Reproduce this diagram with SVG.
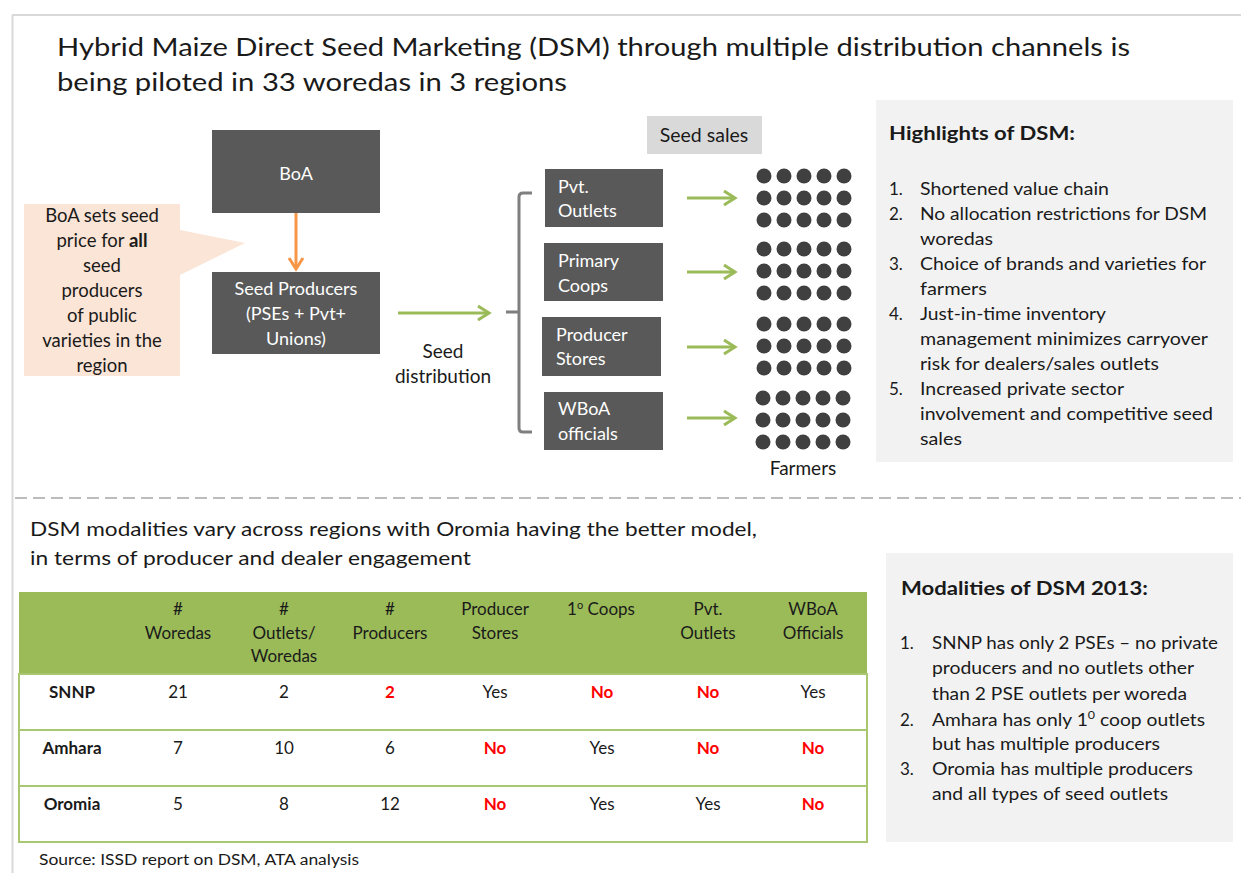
<svg xmlns="http://www.w3.org/2000/svg" width="1241" height="873" viewBox="0 0 1241 873">
<style>
text{font-family:Lato,"Liberation Sans",sans-serif;fill:#1a1a1a}
.t{font-size:25.5px}
.b{font-size:17px}
.cl{font-size:18.5px}
.lb{font-size:19px}
.h2{font-size:19px}
.bx{font-size:18px;fill:#fff}
.tb{font-size:17px}
.c{text-anchor:middle}
.bold{font-weight:bold}
.red{fill:#ff0000;font-weight:bold}
.box{fill:#595959}
.dot{fill:#404040}
.gr{stroke:#9bbb59;stroke-width:3;fill:none}
.panel{fill:#f2f2f2}
.tl{stroke:#a9c670;stroke-width:2}
</style>
<defs>
<marker id="ag" viewBox="0 0 16 18" refX="13" refY="9" markerWidth="16" markerHeight="18" markerUnits="userSpaceOnUse" orient="auto">
<path d="M2,2 L13,9 L2,16" fill="none" stroke="#9bbb59" stroke-width="3"/>
</marker>
<marker id="ao" viewBox="0 0 16 18" refX="13" refY="9" markerWidth="16" markerHeight="18" markerUnits="userSpaceOnUse" orient="auto">
<path d="M2,2 L13,9 L2,16" fill="none" stroke="#f79646" stroke-width="3"/>
</marker>
<g id="dots">
<circle class="dot" cx="0" cy="0" r="7.5"/><circle class="dot" cx="20" cy="0" r="7.5"/><circle class="dot" cx="40" cy="0" r="7.5"/><circle class="dot" cx="60" cy="0" r="7.5"/><circle class="dot" cx="80" cy="0" r="7.5"/>
<circle class="dot" cx="0" cy="22" r="7.5"/><circle class="dot" cx="20" cy="22" r="7.5"/><circle class="dot" cx="40" cy="22" r="7.5"/><circle class="dot" cx="60" cy="22" r="7.5"/><circle class="dot" cx="80" cy="22" r="7.5"/>
<circle class="dot" cx="0" cy="44" r="7.5"/><circle class="dot" cx="20" cy="44" r="7.5"/><circle class="dot" cx="40" cy="44" r="7.5"/><circle class="dot" cx="60" cy="44" r="7.5"/><circle class="dot" cx="80" cy="44" r="7.5"/>
</g>
</defs>
<rect width="1241" height="873" fill="#fff"/>
<g id="frame">
<line x1="12" y1="15" x2="1241" y2="15" stroke="#d9d9d9" stroke-width="2"/>
<line x1="12.5" y1="15" x2="12.5" y2="873" stroke="#d9d9d9" stroke-width="2"/>
<line x1="15" y1="498" x2="1241" y2="498" stroke="#a6a6a6" stroke-width="1.5" stroke-dasharray="12,6"/>
</g>
<g id="title">
<text class="t" x="57" y="56" textLength="1073" lengthAdjust="spacingAndGlyphs">Hybrid Maize Direct Seed Marketing (DSM) through multiple distribution channels is</text>
<text class="t" x="57" y="91" textLength="510" lengthAdjust="spacingAndGlyphs">being piloted in 33 woredas in 3 regions</text>
</g>
<g id="callout">
<path d="M24,204 H180 V230 L245,243 L180,275 V376 H24 Z" fill="#fbe5d6"/>
<text class="cl c" x="102" y="222">BoA sets seed</text>
<text class="cl c" x="102" y="247">price for <tspan font-weight="bold">all</tspan></text>
<text class="cl c" x="102" y="272">seed</text>
<text class="cl c" x="102" y="297">producers</text>
<text class="cl c" x="102" y="322">of public</text>
<text class="cl c" x="102" y="347">varieties in the</text>
<text class="cl c" x="102" y="372">region</text>
</g>
<g id="boa">
<rect class="box" x="212" y="130" width="168" height="83"/>
<text class="bx c" x="296" y="180" font-size="21">BoA</text>
</g>
<g id="seed-producers">
<rect class="box" x="212" y="272" width="168" height="82"/>
<text class="bx c" x="296" y="295" font-size="18.5">Seed Producers</text>
<text class="bx c" x="296" y="320" font-size="18.5">(PSEs + Pvt+</text>
<text class="bx c" x="296" y="345" font-size="18.5">Unions)</text>
</g>
<g id="seed-distribution-label">
<text class="lb c" x="443" y="358">Seed</text>
<text class="lb c" x="443" y="383">distribution</text>
</g>
<g id="pvt-outlets">
<rect class="box" x="545" y="169" width="118" height="58"/>
<text class="bx" x="558" y="193">Pvt.</text>
<text class="bx" x="558" y="217">Outlets</text>
</g>
<g id="primary-coops">
<rect class="box" x="544" y="243" width="119" height="58"/>
<text class="bx" x="558" y="267">Primary</text>
<text class="bx" x="558" y="292">Coops</text>
</g>
<g id="producer-stores">
<rect class="box" x="542" y="317" width="119" height="59"/>
<text class="bx" x="556" y="341">Producer</text>
<text class="bx" x="556" y="365">Stores</text>
</g>
<g id="wboa-officials">
<rect class="box" x="544" y="392" width="119" height="58"/>
<text class="bx" x="558" y="415">WBoA</text>
<text class="bx" x="558" y="440">officials</text>
</g>
<g id="seed-sales">
<rect x="647" y="116" width="115" height="38" fill="#d9d9d9"/>
<text class="c" x="704" y="142" font-size="19.5">Seed sales</text>
</g>
<g id="farmers">
<use href="#dots" transform="translate(764,176)"/>
<use href="#dots" transform="translate(764,249)"/>
<use href="#dots" transform="translate(764,324)"/>
<use href="#dots" transform="translate(763,398)"/>
<text class="lb c" x="803" y="475">Farmers</text>
</g>
<g id="connectors">
<line x1="296" y1="213" x2="296" y2="269" stroke="#f79646" stroke-width="3" marker-end="url(#ao)"/>
<line class="gr" x1="398" y1="313" x2="489" y2="313" marker-end="url(#ag)"/>
<path d="M532,193 H523 Q519,193 519,197 V428 Q519,432 523,432 H532 M506,312 H519" fill="none" stroke="#7f7f7f" stroke-width="3"/>
<line class="gr" x1="687" y1="198" x2="735" y2="198" marker-end="url(#ag)"/>
<line class="gr" x1="687" y1="272" x2="735" y2="272" marker-end="url(#ag)"/>
<line class="gr" x1="687" y1="347" x2="735" y2="347" marker-end="url(#ag)"/>
<line class="gr" x1="687" y1="418" x2="735" y2="418" marker-end="url(#ag)"/>
</g>
<g id="highlights">
<rect class="panel" x="876" y="100" width="357" height="362"/>
<text class="bold" x="889" y="140" font-size="18.5" textLength="186" lengthAdjust="spacingAndGlyphs">Highlights of DSM:</text>
<text class="b" x="889" y="195">1.</text><text class="b" x="920" y="195" textLength="189" lengthAdjust="spacingAndGlyphs">Shortened value chain</text>
<text class="b" x="889" y="220">2.</text><text class="b" x="920" y="220" textLength="287" lengthAdjust="spacingAndGlyphs">No allocation restrictions for DSM</text>
<text class="b" x="920" y="245" textLength="73" lengthAdjust="spacingAndGlyphs">woredas</text>
<text class="b" x="889" y="270">3.</text><text class="b" x="920" y="270" textLength="286" lengthAdjust="spacingAndGlyphs">Choice of brands and varieties for</text>
<text class="b" x="920" y="295" textLength="67" lengthAdjust="spacingAndGlyphs">farmers</text>
<text class="b" x="889" y="320">4.</text><text class="b" x="920" y="320" textLength="186" lengthAdjust="spacingAndGlyphs">Just-in-time inventory</text>
<text class="b" x="920" y="345" textLength="288" lengthAdjust="spacingAndGlyphs">management minimizes carryover</text>
<text class="b" x="920" y="370" textLength="239" lengthAdjust="spacingAndGlyphs">risk for dealers/sales outlets</text>
<text class="b" x="889" y="395">5.</text><text class="b" x="920" y="395" textLength="204" lengthAdjust="spacingAndGlyphs">Increased private sector</text>
<text class="b" x="920" y="420" textLength="293" lengthAdjust="spacingAndGlyphs">involvement and competitive seed</text>
<text class="b" x="920" y="445" textLength="42" lengthAdjust="spacingAndGlyphs">sales</text>
</g>
<g id="section2-heading">
<text class="h2" x="30" y="536" textLength="727" lengthAdjust="spacingAndGlyphs">DSM modalities vary across regions with Oromia having the better model,</text>
<text class="h2" x="30" y="565" textLength="441" lengthAdjust="spacingAndGlyphs">in terms of producer and dealer engagement</text>
</g>
<g id="table">
<rect x="19" y="592" width="848" height="82" fill="#9bbb59"/>
<rect x="19" y="674" width="848" height="168" fill="#fff" stroke="#a9c670" stroke-width="2"/>
<line class="tl" x1="19" y1="730" x2="867" y2="730"/>
<line class="tl" x1="19" y1="786" x2="867" y2="786"/>
<text class="tb c" x="178" y="615">#</text><text class="tb c" x="178" y="639">Woredas</text>
<text class="tb c" x="284" y="615">#</text><text class="tb c" x="284" y="639">Outlets/</text><text class="tb c" x="284" y="662">Woredas</text>
<text class="tb c" x="390" y="615">#</text><text class="tb c" x="390" y="639">Producers</text>
<text class="tb c" x="495" y="615">Producer</text><text class="tb c" x="495" y="639">Stores</text>
<text class="tb c" x="601" y="615">1<tspan font-size="11" dy="-6">o</tspan><tspan dy="6"> Coops</tspan></text>
<text class="tb c" x="708" y="615">Pvt.</text><text class="tb c" x="708" y="639">Outlets</text>
<text class="tb c" x="813" y="615">WBoA</text><text class="tb c" x="813" y="639">Officials</text>
<text class="tb c bold" x="72" y="698">SNNP</text>
<text class="tb c" x="178" y="698">21</text><text class="tb c" x="284" y="698">2</text><text class="tb c red" x="390" y="698">2</text><text class="tb c" x="495" y="698">Yes</text><text class="tb c red" x="602" y="698">No</text><text class="tb c red" x="708" y="698">No</text><text class="tb c" x="813" y="698">Yes</text>
<text class="tb c bold" x="72" y="754">Amhara</text>
<text class="tb c" x="178" y="754">7</text><text class="tb c" x="284" y="754">10</text><text class="tb c" x="390" y="754">6</text><text class="tb c red" x="495" y="754">No</text><text class="tb c" x="602" y="754">Yes</text><text class="tb c red" x="708" y="754">No</text><text class="tb c red" x="813" y="754">No</text>
<text class="tb c bold" x="72" y="810">Oromia</text>
<text class="tb c" x="178" y="810">5</text><text class="tb c" x="284" y="810">8</text><text class="tb c" x="390" y="810">12</text><text class="tb c red" x="495" y="810">No</text><text class="tb c" x="602" y="810">Yes</text><text class="tb c" x="708" y="810">Yes</text><text class="tb c red" x="813" y="810">No</text>
</g>
<g id="source">
<text x="39" y="865" font-size="15.5" textLength="320" lengthAdjust="spacingAndGlyphs">Source: ISSD report on DSM, ATA analysis</text>
</g>
<g id="modalities">
<rect class="panel" x="886" y="553" width="347" height="289"/>
<text class="bold" x="901" y="595" font-size="19.5" textLength="247" lengthAdjust="spacingAndGlyphs">Modalities of DSM 2013:</text>
<text class="b" x="900" y="649">1.</text><text class="b" x="932" y="649" textLength="286" lengthAdjust="spacingAndGlyphs">SNNP has only 2 PSEs – no private</text>
<text class="b" x="932" y="674" textLength="262" lengthAdjust="spacingAndGlyphs">producers and no outlets other</text>
<text class="b" x="932" y="700" textLength="255" lengthAdjust="spacingAndGlyphs">than 2 PSE outlets per woreda</text>
<text class="b" x="900" y="726">2.</text><text class="b" x="932" y="726" textLength="273" lengthAdjust="spacingAndGlyphs">Amhara has only 1<tspan font-size="11" dy="-7">0</tspan><tspan dy="7"> coop outlets</tspan></text>
<text class="b" x="932" y="750" textLength="228" lengthAdjust="spacingAndGlyphs">but has multiple producers</text>
<text class="b" x="900" y="775">3.</text><text class="b" x="932" y="775" textLength="261" lengthAdjust="spacingAndGlyphs">Oromia has multiple producers</text>
<text class="b" x="932" y="800" textLength="236" lengthAdjust="spacingAndGlyphs">and all types of seed outlets</text>
</g>
</svg>
